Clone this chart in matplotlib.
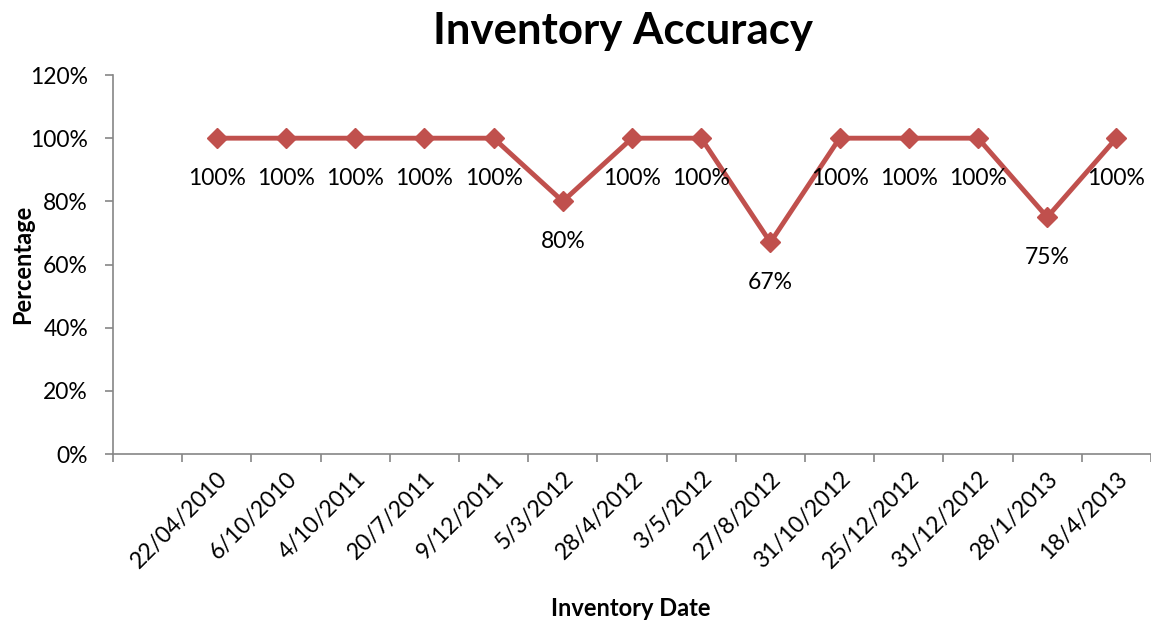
import matplotlib
matplotlib.use("Agg")
import matplotlib.pyplot as plt
from matplotlib.ticker import FuncFormatter, FixedLocator

plt.rcParams['font.family'] = ['Lato', 'DejaVu Sans']

# datos del grafico
fechas = ["22/04/2010", "6/10/2010", "4/10/2011", "20/7/2011", "9/12/2011",
          "5/3/2012", "28/4/2012", "3/5/2012", "27/8/2012", "31/10/2012",
          "25/12/2012", "31/12/2012", "28/1/2013", "18/4/2013"]
precision = [100, 100, 100, 100, 100, 80, 100, 100, 67, 100, 100, 100, 75, 100]
etiquetas = ["100%", "100%", "100%", "100%", "100%", "80%", "100%", "100%",
             "67%", "100%", "100%", "100%", "75%", "100%"]

color = "#C0504D"
gris = "#868686"
fs = 16.5

fig = plt.figure(figsize=(11.51, 6.21), dpi=100)
ax = fig.add_axes([0.0982, 0.2689, 0.9018, 0.6103])

# la primera categoria esta vacia (como en el Excel original)
x = list(range(1, len(fechas) + 1))
ax.plot(x, precision, color=color, lw=3.5, marker="D", ms=10,
        mec=color, mfc=color, solid_joinstyle="miter")

for xi, yi, t in zip(x, precision, etiquetas):
    ax.annotate(t, (xi, yi), xytext=(0, -29), textcoords="offset points",
                ha="center", va="center", fontsize=fs)

ax.set_xlim(-0.5, len(fechas) + 0.5)
ax.set_ylim(0, 120)
ax.set_yticks(range(0, 121, 20))
ax.yaxis.set_major_formatter(FuncFormatter(lambda v, p: "{:.0f}%".format(v)))

# ticks en los bordes de las categorias, etiquetas en el centro
ax.xaxis.set_major_locator(FixedLocator([i - 0.5 for i in range(len(fechas) + 2)]))
ax.xaxis.set_major_formatter(FuncFormatter(lambda v, p: ""))
ax.set_xticks(x, minor=True)
ax.set_xticklabels(fechas, minor=True, rotation=45, ha="right",
                   rotation_mode="anchor", fontsize=fs)
ax.tick_params(axis="x", which="minor", length=0, pad=10)
ax.tick_params(axis="both", which="major", length=6, width=1.2, color=gris,
               direction="out", labelsize=fs)
ax.tick_params(axis="y", pad=12)

for s in ["top", "right"]:
    ax.spines[s].set_visible(False)
for s in ["left", "bottom"]:
    ax.spines[s].set_color(gris)
    ax.spines[s].set_linewidth(1.2)

ax.set_ylabel("Percentage", fontsize=17, fontweight="bold", labelpad=-3)
fig.text(0.548, 0.02, "Inventory Date", ha="center", va="center",
         fontsize=17, fontweight="bold")
fig.text(0.541, 0.95, "Inventory Accuracy", ha="center", va="center",
         fontsize=31.5, fontweight="bold")

fig.savefig("out.png", dpi=100)
